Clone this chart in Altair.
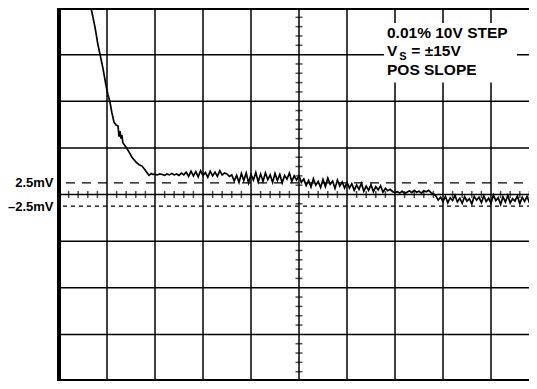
import altair as alt
import pandas as pd
import numpy as np

# Oscilloscope screen: 10 horizontal divisions, 10 mV per vertical division
x_grid = [1, 2, 3, 4, 5, 6, 7, 8, 9]
y_grid = [-30, -20, -10, 0, 10, 20, 30]
ref_upper = 2.5
ref_lower = -2.5

# fast settling part of the trace (time in divisions, error in mV)
settle_t = [0.667, 0.75, 0.81, 0.854, 0.917, 0.979, 1.02, 1.06, 1.10, 1.146, 1.19, 1.23,
            1.25, 1.27, 1.29, 1.31, 1.33, 1.40, 1.46, 1.52, 1.60, 1.67, 1.73, 1.79,
            1.83, 1.875, 1.92, 1.96]
settle_v = [40, 35.9, 32.2, 30.1, 27.0, 23.4, 21.4, 19.9, 17.6, 15.5, 14.9, 14.7,
            12.4, 13.6, 12.0, 12.8, 11.1, 10.1, 9.1, 8.0, 7.0, 6.4, 6.1, 5.3,
            4.7, 4.1, 4.5, 4.3]

# noisy tail, sampled every 0.05 division from 2.00 to 10.00
tail_start = 2.0
tail_step = 0.05
tail_v = [
    4.3, 4.2, 4.4, 4.3, 4.1, 4.4, 4.2, 4.5, 4.2, 4.4, 4.1, 4.6, 4.2,
    4.8, 3.9, 5.0, 4.0, 4.9, 3.8, 5.1, 4.1, 4.7, 3.7, 5.0, 4.0, 4.8, 3.9, 5.1, 4.2, 4.6,
    4.4, 3.9, 4.2, 2.9, 4.1, 2.6, 4.5, 3.0, 4.6, 2.5, 4.3, 3.1, 4.7, 2.7, 4.4,
    2.8, 4.6, 3.2, 4.2, 2.6, 4.5, 3.0, 4.3, 2.5, 4.1, 3.3, 4.6, 2.8, 4.0, 3.1,
    4.0, 2.6, 3.3, 1.9, 3.0, 1.6, 3.4, 2.0, 2.8, 1.5, 3.2, 1.7, 3.5, 2.2, 2.9, 1.3, 3.1, 1.8, 2.7, 1.4,
    2.6, 1.4, 2.3, 0.9, 2.0, 1.1, 2.4, 0.7, 1.8, 0.9, 2.1, 0.6, 1.7, 1.0, 1.9, 0.5, 1.3, 0.8, 1.1, 0.6,
    0.4, 0.6, 0.3, 0.7, 0.2, 0.5, 0.8, 0.4, 0.9, 0.5, 0.7, 0.3, 0.8, 0.6, 0.9, 0.4, 0.1,
    -0.3, -1.2, -0.6, -1.5, -0.4, -1.8, -0.7, -1.3, -0.2, -1.6, -0.8, -1.9, -0.5, -1.4, -0.9,
    -2.0, -0.4, -1.2, -0.6, -1.7, -0.3, -1.5, -0.8, -1.9, -0.1, -1.3, -0.7, -2.1, -0.5, -1.6,
    -0.2, -1.8, -0.9, -1.4, -0.3, -2.0, -0.6, -1.5, -0.4, -1.7, -1.0, -1.9, -0.5, -1.3,
]

# annotation box and its text (time in divisions, level in mV)
box = {"t1": 6.77, "t2": 9.54, "v1": 24.0, "v2": 36.8}
notes_main = [("0.01% 10V STEP", 6.833, 33.6), ("V", 6.833, 29.6),
              ("= ±15V", 7.34, 29.6), ("POS SLOPE", 6.833, 25.6)]
notes_sub = [("S", 7.09, 28.8)]

tail_t = [round(tail_start + tail_step * i, 3) for i in range(len(tail_v))]
trace = pd.DataFrame({"t": settle_t + tail_t, "v": settle_v + tail_v})

X = alt.Scale(domain=[0, 10], nice=False, zero=False)
Y = alt.Scale(domain=[-40, 40], nice=False, zero=False)
FONT = "Liberation Sans"

YAXIS = alt.Axis(values=[ref_upper, ref_lower],
                 labelExpr="datum.value > 0 ? '2.5mV' : '–2.5mV'",
                 domain=False, ticks=False, grid=False, title=None,
                 labelFont=FONT, labelFontSize=13, labelFontWeight="bold",
                 labelColor="black", labelPadding=6)


def yenc(field):
    return alt.Y(field, scale=Y, axis=YAXIS)


def xenc(field):
    return alt.X(field, scale=X, axis=None)


vgrid = alt.Chart(pd.DataFrame({"t": x_grid})).mark_rule(color="black", strokeWidth=1.5).encode(
    x=xenc("t:Q"))
hgrid = alt.Chart(pd.DataFrame({"v": y_grid})).mark_rule(color="black", strokeWidth=1.5).encode(
    y=yenc("v:Q"))

minor_v = [round(-40 + 2 * i, 1) for i in range(41) if (i % 5) != 0]
minor_t = [round(0.2 * i, 1) for i in range(51) if (i % 5) != 0]
ticks_y = alt.Chart(pd.DataFrame({"t": [5] * len(minor_v), "v": minor_v})).mark_tick(
    orient="horizontal", size=7, thickness=1.5, color="black").encode(
    x=xenc("t:Q"), y=yenc("v:Q"))
ticks_x = alt.Chart(pd.DataFrame({"t": minor_t, "v": [0] * len(minor_t)})).mark_tick(
    orient="vertical", size=7, thickness=1.5, color="black").encode(
    x=xenc("t:Q"), y=yenc("v:Q"))

dash_up = alt.Chart(pd.DataFrame({"v": [ref_upper]})).mark_rule(
    color="black", strokeWidth=1.3, strokeDash=[9, 7]).encode(y=yenc("v:Q"))
dash_lo = alt.Chart(pd.DataFrame({"v": [ref_lower]})).mark_rule(
    color="black", strokeWidth=1.3, strokeDash=[4, 4]).encode(y=yenc("v:Q"))

line = alt.Chart(trace).mark_line(color="black", strokeWidth=1.7).encode(
    x=xenc("t:Q"), y=yenc("v:Q"), order="t:Q")

rect = alt.Chart(pd.DataFrame([box])).mark_rect(color="white").encode(
    x=xenc("t1:Q"), x2="t2:Q", y=yenc("v1:Q"), y2="v2:Q")

main_df = pd.DataFrame(notes_main, columns=["label", "t", "v"])
sub_df = pd.DataFrame(notes_sub, columns=["label", "t", "v"])
txt_main = alt.Chart(main_df).mark_text(
    align="left", baseline="alphabetic", font=FONT, fontSize=15.5, fontWeight="bold",
    color="black").encode(x=xenc("t:Q"), y=yenc("v:Q"), text="label:N")
txt_sub = alt.Chart(sub_df).mark_text(
    align="left", baseline="alphabetic", font=FONT, fontSize=11, fontWeight="bold",
    color="black").encode(x=xenc("t:Q"), y=yenc("v:Q"), text="label:N")

chart = alt.layer(dash_up, vgrid, hgrid, ticks_y, ticks_x, dash_lo, rect, line,
                  txt_main, txt_sub).properties(
    width=480, height=373,
    autosize=alt.AutoSizeParams(type="none"),
    padding={"left": 51, "top": 0, "right": -10, "bottom": 0},
    background="white",
).configure_view(stroke="black", strokeWidth=4)

chart.save("out.html", embed_options={"renderer": "svg", "actions": False})
